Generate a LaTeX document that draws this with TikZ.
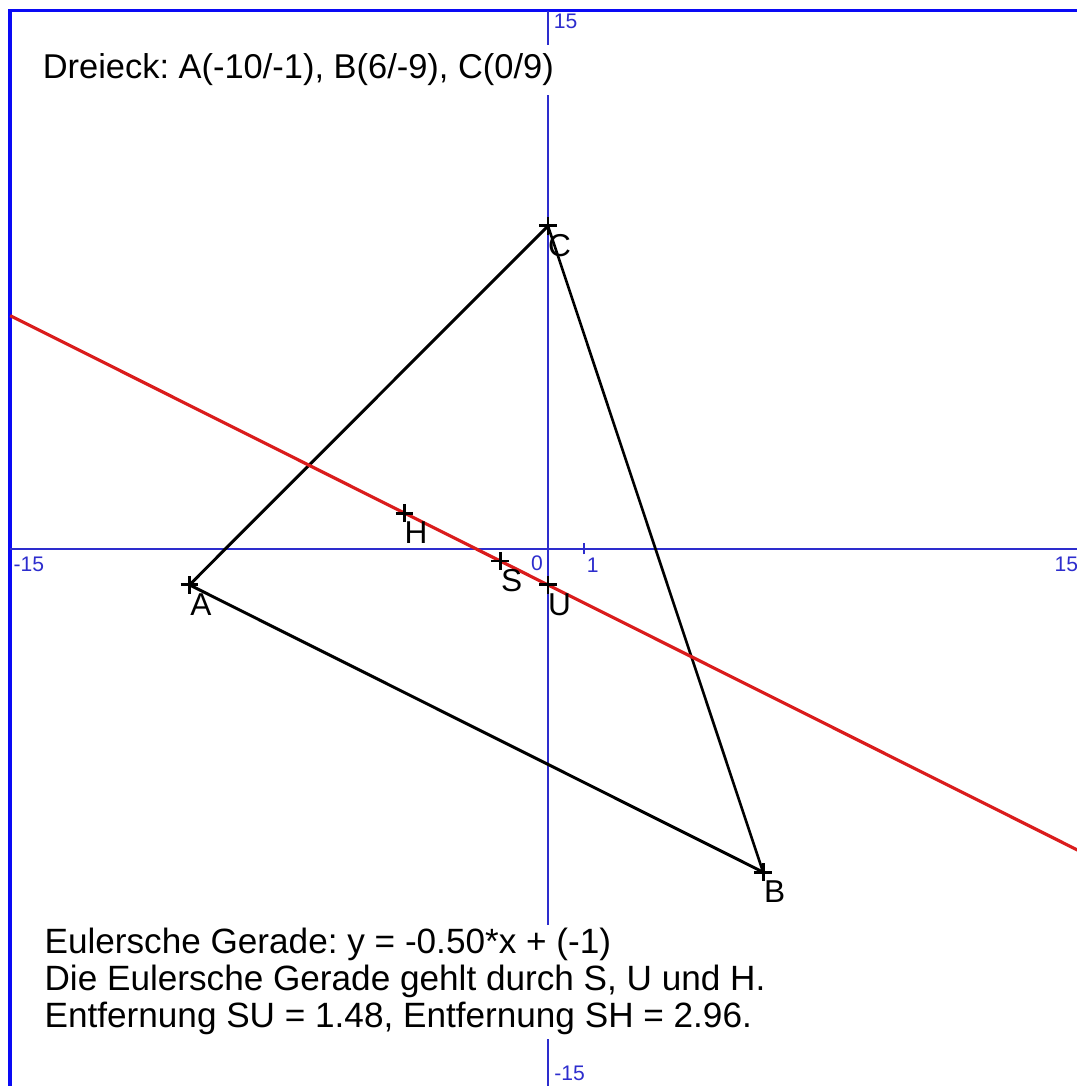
\documentclass[tikz,border=0pt]{standalone}
\usepackage{fontspec}
\setmainfont{Liberation Sans}
\usepackage{tikz}
\usetikzlibrary{calc,shapes.misc}
\definecolor{achse}{RGB}{45,45,205}
\definecolor{rahmen}{RGB}{10,10,245}
\definecolor{euler}{RGB}{218,28,28}
\tikzset{
  kreuz/.style={draw,cross out,rotate=45,minimum size=0.19cm,inner sep=0pt,line width=1.6pt},
  beschr/.style={font=\fontsize{18}{20}\selectfont,inner sep=0pt},
  zahl/.style={font=\fontsize{12}{14}\selectfont,text=achse,inner sep=0pt},
  infotext/.style={font=\fontsize{20}{22}\selectfont,anchor=base west,fill=white,inner xsep=1pt,inner ysep=2pt},
  seite/.style={line width=1.7pt,black},
  achsenlinie/.style={line width=0.9pt,achse},
  eulerlinie/.style={line width=1.8pt,euler},
}

\begin{document}
\frenchspacing
\begin{tikzpicture}[x=0.717cm,y=0.718cm]
  \useasboundingbox (-10.96cm,-10.74cm) rectangle (10.58cm,10.98cm);
  \draw[rahmen,line width=2pt] (-15,-15) rectangle (15,15);
  \coordinate (xl) at (-15,0); \coordinate (xr) at (15,0);
  \coordinate (yu) at (0,-15); \coordinate (yo) at (0,15);
  \coordinate (t1u) at (1,-0.15); \coordinate (t1o) at (1,0.17);
  \draw[achsenlinie] (xl) -- (xr); \draw[achsenlinie] (yu) -- (yo);
  \draw[achsenlinie] (t1u) -- (t1o);
  \node[zahl] (n0)   at (-0.31,-0.39) {0};
  \node[zahl] (n1)   at (1.25,-0.44)  {1};
  \node[zahl] (nxl)  at (-14.48,-0.43) {-15};
  \node[zahl] (nxr)  at (14.46,-0.43) {15};
  \node[zahl] (nyo)  at (0.49,14.69)   {15};
  \node[zahl] (nyu)  at (0.6,-14.6)  {-15};
  \node[kreuz] (A) at (-10,-1) {};
  \node[kreuz] (B) at (6,-9)   {};
  \node[kreuz] (C) at (0,9)    {};
  \node[kreuz] (H) at (-4,1)   {};
  \node[kreuz] (S) at (-4/3,-1/3) {};
  \node[kreuz] (U) at (0,-1)   {};
  \draw[seite] (A.center) -- (B.center);
  \draw[seite,line width=1.5pt] (B.center) -- (C.center);
  \draw[seite] (C.center) -- (A.center);
  \coordinate (E1) at (-15,6.5); \coordinate (E2) at (15,-8.5);
  \draw[eulerlinie] (E1) -- (E2);
  \foreach \p in {A,B,C,H,S,U}
    \node[kreuz] (k\p) at (\p.center) {};
  \foreach \p in {A,B,C,H,S,U}
    \node[beschr] (l\p) at ($(\p.center)+(0.23cm,-0.4cm)$) {\p};
  \node[infotext,inner ysep=5pt,font=\fontsize{19.6}{22}\selectfont] (titel) at (-14.15,13.1) {Dreieck: A(-10/-1), B(6/-9), C(0/9)};
  \node[infotext] (zeile1) at (-14.1,-11.28) {Eulersche Gerade: y = -0.50*x + (-1)};
  \node[infotext] (zeile2) at (-14.1,-12.31) {Die Eulersche Gerade gehlt durch S, U und H.};
  \node[infotext] (zeile3) at (-14.1,-13.34) {Entfernung SU = 1.48, Entfernung SH = 2.96.};
\end{tikzpicture}
\end{document}
